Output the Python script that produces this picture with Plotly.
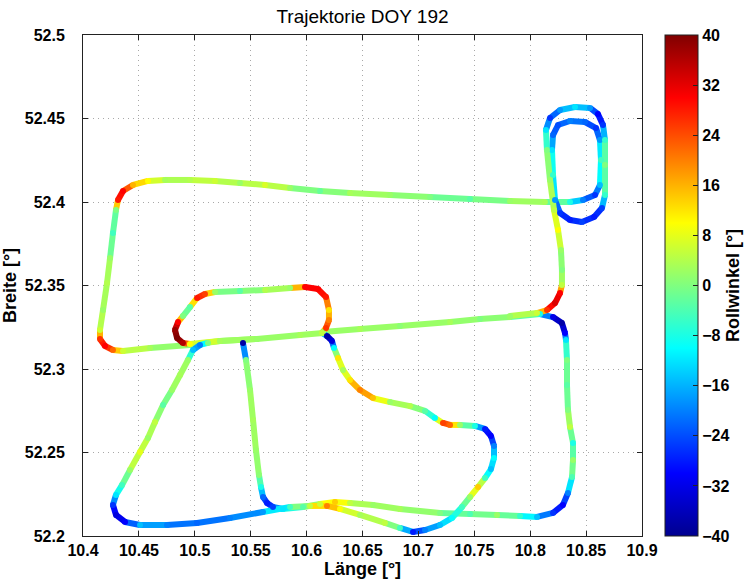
import plotly.graph_objects as go
from plotly.colors import sample_colorscale

# ---------------- data (lon [deg], lat [deg], roll [deg]) ----------------
# Leg A: long line west, big loop, right loops, long strand down, back west
lon_a = [10.6147, 10.5941, 10.5556, 10.5225, 10.4957, 10.4599, 10.4358, 10.4268, 10.4197, 10.4152,
         10.4152, 10.4179, 10.4215, 10.4242, 10.4268, 10.4295, 10.4313, 10.4358, 10.4447, 10.4581,
         10.4733, 10.4957, 10.5181, 10.5404, 10.5628, 10.5852, 10.6120, 10.6388, 10.6746, 10.7104,
         10.7462, 10.7819, 10.8132, 10.8356, 10.8472, 10.8580, 10.8624, 10.8633, 10.8624, 10.8589,
         10.8490, 10.8356, 10.8249, 10.8204, 10.8195, 10.8204, 10.8222, 10.8267, 10.8356, 10.8463,
         10.8571, 10.8642, 10.8669, 10.8669, 10.8669, 10.8651, 10.8606, 10.8535, 10.8401, 10.8267,
         10.8177, 10.8141, 10.8150, 10.8177, 10.8213, 10.8249, 10.8275, 10.8284, 10.8284, 10.8267,
         10.8222, 10.8150, 10.8061, 10.7819]
lat_a = [52.3216, 52.3204, 52.3180, 52.3168, 52.3144, 52.3126, 52.3108, 52.3114, 52.3138, 52.3180,
         52.3234, 52.3353, 52.3515, 52.3665, 52.3814, 52.3952, 52.4012, 52.4066, 52.4102, 52.4126,
         52.4132, 52.4132, 52.4126, 52.4114, 52.4102, 52.4084, 52.4066, 52.4054, 52.4042, 52.4030,
         52.4018, 52.4006, 52.4000, 52.4000, 52.4012, 52.4042, 52.4102, 52.4251, 52.4371, 52.4443,
         52.4479, 52.4485, 52.4461, 52.4401, 52.4311, 52.4162, 52.4012, 52.3934, 52.3892, 52.3880,
         52.3910, 52.3964, 52.4042, 52.4222, 52.4371, 52.4461, 52.4527, 52.4563, 52.4569, 52.4551,
         52.4503, 52.4431, 52.4311, 52.4132, 52.3952, 52.3832, 52.3713, 52.3593, 52.3503, 52.3455,
         52.3395, 52.3353, 52.3335, 52.3317]
roll_a = [2, 3, 1, 2, 0, 3, 6, 22, 30, 26,
          6, 2, 4, 2, -5, 0, 28, 30, 16, 10,
          3, 4, 6, 2, 7, 2, -2, 3, 2, 0,
          -3, 2, 3, -8, -20, -26, -15, -5, -18, -26,
          -22, -20, -24, -22, -12, -6, -18, -26, -28, -25,
          -28, -25, -6, 0, -6, -26, -30, -18, -12, -18,
          -26, -12, 0, 2, 5, 10, 2, 0, 5, 30,
          33, 26, 6, 2]

# Leg B: inner box, bubble to the south-east, lower bottom line, triangle
lon_b = [10.5556, 10.5225, 10.4957, 10.4894, 10.4841, 10.4823, 10.4850, 10.4894, 10.4957, 10.5020,
         10.5091, 10.5181, 10.5404, 10.5628, 10.5852, 10.5986, 10.6102, 10.6174, 10.6200, 10.6200,
         10.6174, 10.6138, 10.6182, 10.6227, 10.6245, 10.6281, 10.6326, 10.6388, 10.6478, 10.6594,
         10.6746, 10.6925, 10.7059, 10.7148, 10.7220, 10.7283, 10.7372, 10.7506, 10.7596, 10.7649,
         10.7676, 10.7676, 10.7649, 10.7596, 10.7533, 10.7462, 10.7390, 10.7301, 10.7193, 10.7059,
         10.6952, 10.6835, 10.6701, 10.6478, 10.6299, 10.6182, 10.6030, 10.5852, 10.5610, 10.5315,
         10.5020, 10.4751, 10.4510, 10.4376, 10.4295, 10.4268, 10.4295, 10.4349, 10.4420, 10.4510,
         10.4581, 10.4644, 10.4716, 10.4796, 10.4868, 10.4939, 10.4984, 10.5047, 10.5118]
lat_b = [52.3180, 52.3168, 52.3150, 52.3156, 52.3186, 52.3234, 52.3281, 52.3317, 52.3371, 52.3425,
         52.3449, 52.3461, 52.3467, 52.3473, 52.3485, 52.3491, 52.3479, 52.3431, 52.3353, 52.3293,
         52.3246, 52.3216, 52.3198, 52.3168, 52.3126, 52.3066, 52.2994, 52.2934, 52.2874, 52.2826,
         52.2802, 52.2778, 52.2749, 52.2707, 52.2677, 52.2665, 52.2665, 52.2659, 52.2641, 52.2599,
         52.2539, 52.2467, 52.2401, 52.2347, 52.2293, 52.2234, 52.2174, 52.2108, 52.2066, 52.2036,
         52.2024, 52.2048, 52.2078, 52.2126, 52.2162, 52.2180, 52.2180, 52.2174, 52.2144, 52.2108,
         52.2078, 52.2066, 52.2066, 52.2084, 52.2126, 52.2186, 52.2246, 52.2305, 52.2395, 52.2503,
         52.2587, 52.2683, 52.2784, 52.2874, 52.2964, 52.3054, 52.3114, 52.3144, 52.3156]
roll_b = [2, 3, 10, 36, 40, 38, 30, 0, -3, 28,
          25, 2, -3, 4, 2, 30, 30, 28, 12, 20,
          26, 5, -38, -33, -10, 12, 3, 12, 20, 15,
          2, 4, -3, -10, 25, 22, 2, -8, -28, -30,
          -20, -10, -15, -5, 14, 2, -5, -10, -15, -20,
          -28, -5, 5, 3, 10, 20, 5, -5, -18, -20,
          -22, -20, -15, -30, -33, -26, -12, -5, 2, 8,
          2, 5, -3, 2, 3, 2, -15, -20, 0]

# Leg C: north-south line, upper bottom line, eastern side, long line west
lon_c = [10.5431, 10.5458, 10.5494, 10.5521, 10.5547, 10.5574, 10.5592, 10.5610, 10.5646, 10.5699,
         10.5789, 10.5968, 10.6120, 10.6254, 10.6388, 10.6594, 10.6835, 10.7193, 10.7462, 10.7703,
         10.7909, 10.8061, 10.8204, 10.8293, 10.8338, 10.8374, 10.8383, 10.8383, 10.8356, 10.8338,
         10.8329, 10.8329, 10.8320, 10.8311, 10.8284, 10.8204, 10.8088, 10.7819, 10.7551, 10.7283,
         10.6835, 10.6478, 10.6147]
lat_c = [52.3156, 52.3054, 52.2874, 52.2695, 52.2515, 52.2365, 52.2293, 52.2234, 52.2198, 52.2174,
         52.2162, 52.2174, 52.2192, 52.2204, 52.2198, 52.2186, 52.2162, 52.2138, 52.2132, 52.2126,
         52.2120, 52.2114, 52.2138, 52.2186, 52.2258, 52.2353, 52.2455, 52.2557, 52.2653, 52.2754,
         52.2904, 52.3054, 52.3174, 52.3216, 52.3275, 52.3311, 52.3329, 52.3311, 52.3299, 52.3281,
         52.3257, 52.3240, 52.3222]
roll_c = [-38, 0, 2, 3, 2, 1, -8, -22, -28, -25,
          -12, -3, 6, 14, 5, 2, 3, 0, -4, 2,
          -6, -15, -26, -30, -20, -4, 2, -8, 5, 0,
          -3, 0, -12, -30, -38, -32, -8, 2, 0, 3,
          1, 3, 1]

x_ticks = [10.4, 10.45, 10.5, 10.55, 10.6, 10.65, 10.7, 10.75, 10.8, 10.85, 10.9]
x_ticklabels = ["10.4", "10.45", "10.5", "10.55", "10.6", "10.65", "10.7", "10.75", "10.8", "10.85", "10.9"]
y_ticks = [52.2, 52.25, 52.3, 52.35, 52.4, 52.45, 52.5]
y_ticklabels = ["52.2", "52.25", "52.3", "52.35", "52.4", "52.45", "52.5"]
cbar_ticks = [-40, -32, -24, -16, -8, 0, 8, 16, 24, 32, 40]

# MATLAB jet
jet = [[0.0, "rgb(0,0,143)"], [0.125, "rgb(0,0,255)"], [0.375, "rgb(0,255,255)"],
       [0.625, "rgb(255,255,0)"], [0.875, "rgb(255,0,0)"], [1.0, "rgb(128,0,0)"]]

FONT = "Liberation Sans, Arial, sans-serif"
W = 6

fig = go.Figure()
legs = [(lon_c, lat_c, roll_c), (lon_a, lat_a, roll_a), (lon_b, lat_b, roll_b)]
all_lon, all_lat, all_roll = [], [], []
for lon, lat, roll in legs:
    for i in range(len(lon) - 1):
        v = (roll[i] + roll[i + 1]) / 2.0
        c = sample_colorscale(jet, [min(max((v + 40) / 80.0, 0), 1)])[0]
        fig.add_trace(go.Scatter(x=lon[i:i + 2], y=lat[i:i + 2], mode="lines",
                                 line=dict(color=c, width=W), hoverinfo="skip",
                                 showlegend=False))
    all_lon += lon
    all_lat += lat
    all_roll += roll

fig.add_trace(go.Scatter(
    x=all_lon, y=all_lat, mode="markers", showlegend=False, hoverinfo="skip",
    marker=dict(size=W, color=all_roll, colorscale=jet, cmin=-40, cmax=40,
                line=dict(width=0),
                colorbar=dict(
                    xref="container", x=665 / 751, xanchor="left", xpad=0,
                    yref="paper", y=0.5, yanchor="middle", ypad=0,
                    len=1, lenmode="fraction", thickness=33, thicknessmode="pixels",
                    outlinewidth=1, outlinecolor="#222",
                    tickmode="array", tickvals=cbar_ticks, ticks="inside", ticklen=5,
                    tickcolor="#222",
                    tickfont=dict(family=FONT, size=16, color="black", weight="bold"),
                    title=dict(text="Rollwinkel [°]", side="right",
                               font=dict(family=FONT, size=18, color="black", weight="bold")),
                ))))

axis_common = dict(showline=True, linecolor="#222", linewidth=1, mirror="ticks",
                   ticks="inside", ticklen=5, tickcolor="#222",
                   showgrid=True, gridcolor="#a8a8a8", griddash="1px,4px", gridwidth=1,
                   zeroline=False,
                   tickfont=dict(family=FONT, size=16, color="black", weight="bold"))

fig.update_xaxes(range=[10.4, 10.9], tickmode="array", tickvals=x_ticks, ticktext=x_ticklabels,
                 title=dict(text="Länge [°]", standoff=4,
                            font=dict(family=FONT, size=18, color="black", weight="bold")),
                 **axis_common)
fig.update_yaxes(range=[52.2, 52.5], tickmode="array", tickvals=y_ticks, ticktext=y_ticklabels,
                 ticklabelstandoff=14,
                 title=dict(text="Breite [°]", standoff=4,
                            font=dict(family=FONT, size=18, color="black", weight="bold")),
                 **axis_common)

fig.update_layout(
    width=751, height=582,
    margin=dict(l=83, r=109, t=35, b=46, autoexpand=False),
    paper_bgcolor="white", plot_bgcolor="white",
    title=dict(text="Trajektorie DOY 192", x=0.5 * (83 + 642) / 751, xanchor="center",
               y=1 - 16 / 582, yanchor="middle",
               font=dict(family=FONT, size=19, color="black")),
)

fig.write_html("out.html")
